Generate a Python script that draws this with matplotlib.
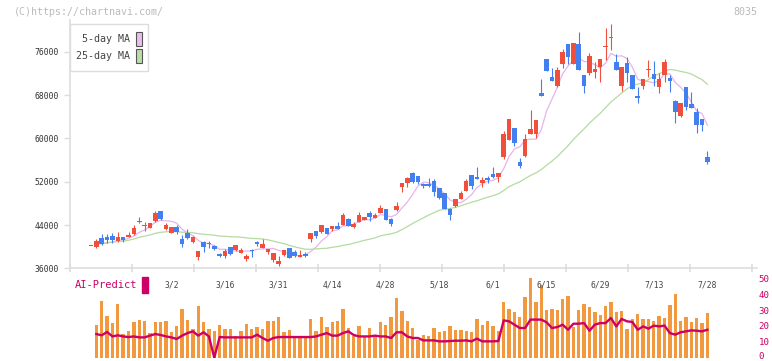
import numpy as np
import pandas as pd
import matplotlib
matplotlib.use("Agg")
import matplotlib.pyplot as plt
import matplotlib.transforms as mtrans
from matplotlib.patches import Rectangle

# ---- data (one candle per trading day) ----
opens = [40050, 40004, 41544, 41729, 41975, 41051, 41790, 41729, 42345, 44747,
         43823, 43515, 44809, 46595, 43207, 42591, 43638, 41482, 42591, 40866,
         38156, 40866, 40743, 40189, 38649, 38341, 39881, 39388, 38890, 37750,
         39450, 40770, 39810, 39074, 37534, 36733, 38458, 39751, 39012, 38150,
         38643, 41353, 42893, 42770, 43448, 43201, 43817, 44002, 45049, 43694,
         44618, 44926, 46281, 45234, 46219, 46959, 45111, 46774, 51086, 51702,
         53550, 53057, 51580, 51580, 52133, 50778, 49977, 46897, 47513, 48745,
         50285, 53242, 52934, 51825, 52749, 53427, 52934, 56507, 59710, 61866,
         55583, 56815, 60819, 60819, 68457, 74680, 71414, 69690, 73690, 77451,
         73816, 77451, 71722, 72153, 72338, 73262, 76835, 78498, 74124, 69750,
         74001, 71722, 67780, 69750, 72707, 71907, 69566, 71722, 71168, 66979,
         64145, 69566, 66363, 64884, 63652, 56630]
highs = [40100, 41359, 42345, 42345, 42591, 42776, 41790, 42776, 44008, 45548,
         44501, 44439, 46595, 46595, 44316, 43700, 44008, 42098, 43207, 41975,
         39265, 41051, 41051, 40312, 38895, 39511, 40004, 40250, 39700, 38585,
         39630, 41000, 41415, 39505, 38766, 38273, 39382, 39751, 39382, 39382,
         39012, 42585, 42893, 44002, 43448, 43879, 44618, 46158, 45234, 44495,
         46404, 45480, 46589, 46158, 47698, 46959, 45357, 48250, 51825, 52810,
         53735, 53057, 51830, 52690, 52503, 50901, 49977, 47082, 48807, 50285,
         52503, 53242, 54782, 52810, 53119, 54659, 53673, 61373, 63591, 61866,
         56322, 60819, 65254, 63406, 70983, 74700, 73077, 73260, 76465, 77451,
         77697, 79668, 71722, 75726, 74186, 74678, 80346, 81147, 75603, 73200,
         75110, 71722, 69566, 70983, 74494, 74309, 72030, 74678, 71784, 67102,
         66548, 69566, 68580, 65624, 63652, 57677]
lows = [40040, 39819, 40250, 40620, 40620, 40928, 40928, 41729, 42160, 44316,
        42961, 43392, 44624, 44932, 43084, 42530, 42283, 40004, 41420, 40743,
        37540, 39080, 39819, 39326, 38156, 37848, 38526, 39203, 38890, 37415,
        38150, 40200, 39810, 38581, 37226, 36425, 38334, 37965, 38150, 38150,
        38150, 40860, 41661, 42585, 42339, 42831, 43263, 44002, 43879, 43509,
        44495, 44926, 44741, 45234, 46219, 44926, 43879, 46650, 50162, 51086,
        51825, 51579, 50780, 51080, 49361, 48745, 46958, 44927, 47390, 48745,
        50285, 50593, 52441, 51086, 51825, 52626, 51948, 56261, 59710, 58601,
        54474, 56507, 60819, 60018, 67903, 72500, 70675, 69570, 72950, 73693,
        73693, 72646, 68457, 71722, 71106, 70490, 74494, 76342, 72646, 68826,
        70490, 69134, 66486, 69134, 71414, 69750, 68457, 70490, 68642, 62913,
        64022, 65254, 65624, 61065, 61435, 55275]
closes = [40090, 41051, 40497, 41236, 41236, 41852, 41236, 42222, 43392, 44501,
          44070, 44439, 46164, 45178, 44008, 43638, 42653, 40558, 41667, 41729,
          39142, 40004, 40435, 39634, 38279, 39203, 38649, 40250, 39450, 38340,
          39200, 40400, 40490, 39505, 38766, 37349, 39382, 37965, 38273, 38458,
          38273, 42585, 41969, 44002, 42339, 43879, 43263, 45850, 43879, 44125,
          45788, 45480, 45419, 45850, 47143, 44926, 44248, 47513, 51825, 52626,
          52010, 52010, 51210, 51150, 50162, 49053, 46958, 45850, 48807, 49977,
          52195, 51209, 52441, 52318, 52318, 52934, 53673, 60819, 63591, 59217,
          54967, 59895, 61743, 63406, 67903, 72520, 70675, 72650, 75970, 75110,
          77697, 72646, 69750, 75233, 72831, 74678, 77081, 78745, 72646, 73200,
          72153, 69134, 67472, 70983, 72831, 70983, 70983, 74124, 70675, 64946,
          66548, 65747, 65624, 62543, 62543, 55706]

date_pos = [15, 25, 35, 45, 55, 65, 75, 85, 95, 105, 115]
date_labels = ["3/2", "3/16", "3/31", "4/14", "4/28", "5/18",
               "6/1", "6/15", "6/29", "7/13", "7/28"]

# AI-Predict panel (starts at the second candle)
ai_bars = [20.6, 35.7, 26.3, 21.6, 33.8, 15.0, 16.8, 22.5, 23.7, 23.1,
           15.5, 22.5, 22.5, 23.1, 16.2, 20.0, 30.7, 24.0, 18.0, 32.6,
           22.5, 18.0, 16.8, 20.6, 18.0, 18.0, 13.7, 16.8, 21.2, 18.0,
           19.3, 18.0, 23.1, 23.1, 25.6, 16.2, 17.4, 13.7, 13.7, 13.7,
           24.6, 16.8, 25.6, 19.3, 22.5, 23.1, 30.7, 18.7, 13.7, 20.0,
           13.7, 18.7, 13.7, 22.5, 20.6, 25.6, 37.6, 29.4, 23.1,
           19.0, 11.3, 14.5, 13.4, 19.0, 16.0, 17.0, 19.7, 17.6, 17.6,
           17.0, 16.0, 24.6, 20.4, 22.9, 20.2, 17.0, 34.9, 30.9, 28.6,
           25.4, 38.0, 50.0, 35.0, 45.6, 29.8, 30.9, 29.8, 37.2, 39.0,
           19.3, 30.3, 33.6, 31.7, 28.8, 27.1, 32.8, 35.3, 29.0, 29.6,
           18.3, 24.6, 27.5, 24.6, 24.6, 23.3, 26.0, 24.8, 33.0, 40.3,
           23.3, 25.8, 22.7, 24.8, 21.8, 27.9]
ai_line = [14.9, 14.1, 16.2, 13.4, 14.1, 13.4, 13.0, 13.4, 12.8, 12.8,
           13.9, 14.9, 14.3, 13.4, 12.8, 11.8, 13.9, 15.5, 16.6, 13.9,
           16.0, 13.4, 0.0, 13.0, 12.8, 12.8, 12.8, 12.8, 12.8, 12.8,
           14.5, 12.4, 10.7, 12.4, 13.0, 13.0, 13.0, 13.0, 13.0, 13.0,
           13.0, 13.4, 14.5, 15.5, 13.9, 13.9, 15.5, 16.6, 14.3, 13.4,
           13.4, 13.4, 13.9, 13.4, 13.4, 12.4, 16.0, 16.0, 13.4,
           12.4, 12.4, 10.9, 10.9, 10.9, 10.3, 10.3, 10.5, 10.7, 10.7,
           10.9, 10.3, 12.0, 10.3, 10.3, 10.3, 10.5, 23.5, 22.9, 20.8,
           18.7, 18.7, 24.0, 24.0, 24.0, 22.3, 18.7, 19.3, 20.8, 17.6,
           21.4, 21.4, 21.8, 17.0, 20.8, 21.8, 21.8, 25.0, 19.7, 24.4,
           22.9, 22.5, 17.6, 19.7, 18.3, 20.2, 19.7, 20.2, 15.5, 14.5,
           16.0, 16.6, 17.2, 17.0, 16.6, 17.6]

# ---- layout in pixels ----
W, H = 772, 361
STEP = 5.36          # px per candle
X_FIRST = 91         # px of candle 0
MONO = "DejaVu Sans Mono"
RED, BLUE = "#f04f3c", "#4280f0"
MAGENTA = "#cc0066"


def fx(x):
    return x / W


def fy(y):
    return 1 - y / H


fig = plt.figure(figsize=(W / 100, H / 100), dpi=100)
x0 = (70 - X_FIRST) / STEP
x1 = (757 - X_FIRST) / STEP

# AI-Predict panel (added first so the date labels of the price panel sit on top)
ax2 = fig.add_axes([fx(70), fy(357.7), (757 - 70) / W, (357.7 - 278.3) / H])
ax2.patch.set_visible(False)
x = np.arange(len(closes))
ax2.bar(x[1:], ai_bars, width=0.62, color="#f2983f", zorder=2)
ax2.plot(x[1:], ai_line, color=MAGENTA, lw=1.7, zorder=3)
for sp in ax2.spines.values():
    sp.set_visible(False)
ax2.set_xticks([])
ax2.set_ylim(0, 50)
ax2.yaxis.tick_right()
ax2.set_yticks(range(0, 51, 10))
ax2.tick_params(axis="y", length=0, pad=1, labelsize=6.6, labelcolor=MAGENTA)
for t in ax2.get_yticklabels():
    t.set_family(MONO)
# keep the bottom "0" inside the picture
zero = ax2.get_yticklabels()[0]
zero.set_verticalalignment("baseline")
zero.set_transform(zero.get_transform() +
                   mtrans.ScaledTranslation(0, -1.5 / 100, fig.dpi_scale_trans))

# main price panel
ax = fig.add_axes([fx(70), fy(268.3), (757 - 70) / W, (268.3 - 20) / H])
ax.patch.set_visible(False)
o, h, l, c = map(np.array, (opens, highs, lows, closes))
cols = np.where(c >= o, RED, BLUE)
ax.vlines(x, l, h, color=cols, lw=0.8, zorder=3)
body = np.maximum(np.abs(c - o), 180)
ax.bar(x, body, bottom=np.minimum(o, c), width=0.85, color=cols, zorder=3)

s = pd.Series(c, dtype=float)
ma5 = s.rolling(5, min_periods=1).mean()
ma25 = s.rolling(25, min_periods=1).mean()
ax.plot(x[1:], ma5[1:], color="#e8b4ec", lw=0.9, zorder=2)
ax.plot(x[1:], ma25[1:], color="#b5dba0", lw=0.9, zorder=2)

ax.set_xlim(x0, x1)
ax2.set_xlim(x0, x1)
ax.set_ylim(36000, 36000 + 248.3 * 184.8)
for side in ("top", "right"):
    ax.spines[side].set_visible(False)
for side in ("left", "bottom"):
    ax.spines[side].set_color("#dddddd")
    ax.spines[side].set_linewidth(1.2)
ax.set_yticks(np.arange(36000, 76001, 8000))
ax.tick_params(axis="y", length=4, width=1, color="#dddddd", pad=4,
               labelsize=5.8, labelcolor="#333333")
for t in ax.get_yticklabels():
    t.set_family(MONO)
ax.set_xticks(date_pos)
ax.set_xticklabels(date_labels, family=MONO, fontsize=5.8, color="#444444")
ax.tick_params(axis="x", which="major", length=0, pad=9)
ax.set_xticks(x0 + np.arange(12) * 62 / STEP, minor=True)
ax.tick_params(axis="x", which="minor", direction="inout", length=6,
               width=1.2, color="#dddddd")

# texts, legend
fig.text(fx(14), fy(12), "(C)https://chartnavi.com/", family=MONO,
         fontsize=7.2, color="#bbbbbb", va="center")
fig.text(fx(757), fy(12), "8035", family=MONO, fontsize=7.2,
         color="#bbbbbb", va="center", ha="right")
fig.text(fx(75), fy(285), "AI-Predict", family=MONO, fontsize=7.5,
         color=MAGENTA, va="center")
fig.add_artist(Rectangle((fx(142), fy(293)), 6 / W, 16 / H,
                         transform=fig.transFigure, color=MAGENTA, zorder=5))

fig.add_artist(Rectangle((fx(70), fy(71)), 78 / W, 47 / H,
                         transform=fig.transFigure, facecolor="white",
                         edgecolor="#dddddd", lw=1, zorder=5))
for yy, label, col in [(39, "5-day MA", "#eebbee"), (56, "25-day MA", "#bbddaa")]:
    fig.text(fx(130), fy(yy), label, family=MONO, fontsize=7.2,
             color="#444444", va="center", ha="right", zorder=6)
    fig.add_artist(Rectangle((fx(136), fy(yy + 7)), 6 / W, 14 / H,
                             transform=fig.transFigure, facecolor=col,
                             edgecolor="#555555", lw=0.8, zorder=6))

fig.savefig("out.png", dpi=100)
